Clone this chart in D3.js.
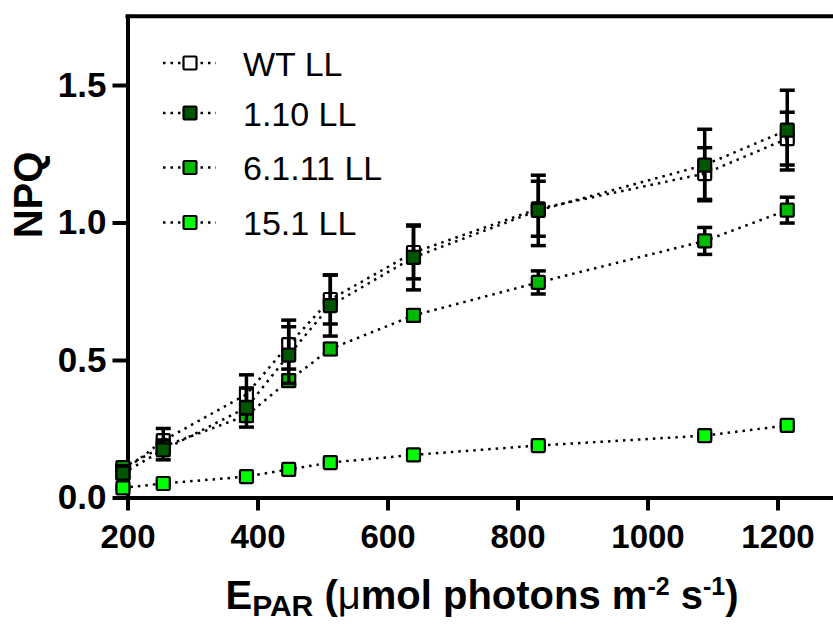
<!DOCTYPE html>
<html>
<head>
<meta charset="utf-8">
<script src="https://cdn.jsdelivr.net/npm/d3@7"></script>
<style>
  body { margin: 0; background: #fff; }
  svg { display: block; }
  text { font-family: Arial, "Liberation Sans", sans-serif; fill: #000; }
</style>
</head>
<body>
<svg id="chart" width="833" height="626"></svg>
<script>
// Irradiance steps (µmol photons m-2 s-1)
const irradiance = [193, 255, 383, 448, 512, 640, 832, 1088, 1215];

// NPQ means and SDs per line
const wtMean   = [0.095, 0.207, 0.375, 0.556, 0.720, 0.891, 1.050, 1.178, 1.305];
const wtSd     = [0.020, 0.044, 0.071, 0.089, 0.089, 0.096, 0.100, 0.094, 0.096];
const l110Mean = [0.089, 0.173, 0.327, 0.518, 0.698, 0.873, 1.044, 1.209, 1.336];
const l110Sd   = [0.020, 0.036, 0.071, 0.103, 0.111, 0.118, 0.128, 0.130, 0.145];
const l6111Mean = [0.109, 0.185, 0.298, 0.425, 0.540, 0.662, 0.782, 0.933, 1.045];
const l6111Sd   = [0.010, 0.015, 0.020, 0.020, 0.020, 0.020, 0.042, 0.049, 0.047];
const l151Mean = [0.035, 0.051, 0.076, 0.102, 0.127, 0.155, 0.189, 0.225, 0.262];
const l151Sd   = [0.005, 0.005, 0.005, 0.005, 0.005, 0.005, 0.006, 0.006, 0.006];

const seriesNames  = ["WT LL", "1.10 LL", "6.1.11 LL", "15.1 LL"];
const seriesFill   = ["none", "#005500", "#00bb00", "#00ff00"];
const xTickValues  = [200, 400, 600, 800, 1000, 1200];
const yTickValues  = [0, 0.5, 1.0, 1.5];

const series = [
  { name: seriesNames[0], fill: seriesFill[0], mean: wtMean,    sd: wtSd },
  { name: seriesNames[1], fill: seriesFill[1], mean: l110Mean,  sd: l110Sd },
  { name: seriesNames[2], fill: seriesFill[2], mean: l6111Mean, sd: l6111Sd },
  { name: seriesNames[3], fill: seriesFill[3], mean: l151Mean,  sd: l151Sd }
];

const svg = d3.select("#chart");

const x = d3.scaleLinear().domain([200, 1285]).range([127.5, 832.75]);
const y = d3.scaleLinear().domain([0, 1.75]).range([497.5, 16.25]);

const AXIS_W = 4;
const MARK = 15;
const DOT = "2.5,5";
const FONT = 'Arial, "Liberation Sans", sans-serif';

// top frame line
svg.append("line")
  .attr("x1", x(200) - AXIS_W / 2).attr("x2", 833)
  .attr("y1", y(1.75)).attr("y2", y(1.75))
  .attr("stroke", "#000").attr("stroke-width", AXIS_W);

// y axis
const yAxis = svg.append("g")
  .attr("transform", `translate(${x(200)},0)`)
  .call(d3.axisLeft(y).tickValues(yTickValues).tickFormat(d3.format(".1f"))
        .tickSize(15).tickSizeOuter(0).tickPadding(6));
yAxis.select(".domain").attr("stroke-width", AXIS_W).attr("stroke-linecap", "square");
yAxis.selectAll(".tick line").attr("stroke-width", AXIS_W);
yAxis.selectAll(".tick text")
  .attr("font-size", 35).attr("font-weight", "bold").attr("font-family", FONT);

// x axis
const xAxis = svg.append("g")
  .attr("transform", `translate(0,${y(0)})`)
  .call(d3.axisBottom(x).tickValues(xTickValues).tickFormat(d3.format("d"))
        .tickSize(13).tickSizeOuter(0).tickPadding(14));
xAxis.select(".domain").attr("stroke-width", AXIS_W);
xAxis.selectAll(".tick line").attr("stroke-width", AXIS_W);
xAxis.selectAll(".tick text")
  .attr("font-size", 33).attr("font-weight", "bold").attr("font-family", FONT);

// axis titles
svg.append("text")
  .attr("transform", "translate(28,195) rotate(-90)")
  .attr("text-anchor", "middle").attr("dominant-baseline", "central")
  .attr("font-size", 40).attr("font-weight", "bold")
  .text("NPQ");

const xt = svg.append("text")
  .attr("x", 482).attr("y", 609)
  .attr("text-anchor", "middle")
  .attr("font-size", 40).attr("font-weight", "bold");
xt.append("tspan").text("E");
xt.append("tspan").attr("font-size", 30).attr("dy", 7).text("PAR");
xt.append("tspan").attr("dy", -7).text(" (");
xt.append("tspan").attr("font-weight", "normal").text("\u03bc");
xt.append("tspan").text("mol photons m");
xt.append("tspan").attr("font-size", 25).attr("dy", -14).text("-2");
xt.append("tspan").attr("dy", 14).text(" s");
xt.append("tspan").attr("font-size", 25).attr("dy", -14).text("-1");
xt.append("tspan").attr("dy", 14).text(")");

// data: drawn back to front so that the 1.10 line sits on top
const line = d3.line().x((d, i) => x(irradiance[i])).y(d => y(d));
const drawOrder = [3, 2, 0, 1];

drawOrder.forEach(k => {
  const s = series[k];
  const g = svg.append("g");
  g.append("path")
    .attr("d", line(s.mean))
    .attr("fill", "none").attr("stroke", "#000")
    .attr("stroke-width", 2.5).attr("stroke-dasharray", DOT);

  const eb = g.selectAll(".eb").data(s.mean).join("g");
  eb.append("line")
    .attr("x1", (d, i) => x(irradiance[i])).attr("x2", (d, i) => x(irradiance[i]))
    .attr("y1", (d, i) => y(d + s.sd[i])).attr("y2", (d, i) => y(d - s.sd[i]))
    .attr("stroke", "#000").attr("stroke-width", 3.5);
  [1, -1].forEach(sign => {
    eb.append("line")
      .attr("x1", (d, i) => x(irradiance[i]) - 7.5).attr("x2", (d, i) => x(irradiance[i]) + 7.5)
      .attr("y1", (d, i) => y(d + sign * s.sd[i])).attr("y2", (d, i) => y(d + sign * s.sd[i]))
      .attr("stroke", "#000").attr("stroke-width", 3.5);
  });

  g.selectAll(".pt").data(s.mean).join("rect")
    .attr("x", (d, i) => x(irradiance[i]) - MARK / 2 + 1)
    .attr("y", d => y(d) - MARK / 2 + 1)
    .attr("width", MARK - 2).attr("height", MARK - 2)
    .attr("rx", 1)
    .attr("fill", s.fill).attr("stroke", "#000").attr("stroke-width", 2.2);
});

// legend
const legendRows = [63, 113, 167.5, 222.5];
series.forEach((s, k) => {
  const ly = legendRows[k];
  const lg = svg.append("g");
  lg.append("line")
    .attr("x1", 163).attr("x2", 216).attr("y1", ly).attr("y2", ly)
    .attr("stroke", "#000").attr("stroke-width", 2.5).attr("stroke-dasharray", DOT);
  lg.append("rect")
    .attr("x", 190 - MARK / 2 + 1).attr("y", ly - MARK / 2 + 1)
    .attr("width", MARK - 2).attr("height", MARK - 2).attr("rx", 1)
    .attr("fill", s.fill === "none" ? "#fff" : s.fill)
    .attr("stroke", "#000").attr("stroke-width", 2.2);
  lg.append("text")
    .attr("x", 243).attr("y", ly + 12.5)
    .attr("font-size", 34)
    .text(s.name);
});
</script>
</body>
</html>
